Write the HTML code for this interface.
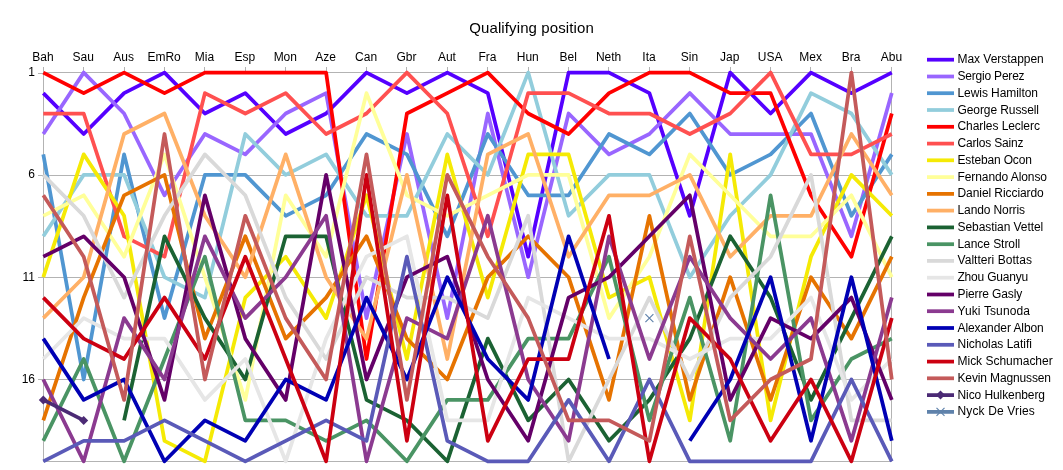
<!DOCTYPE html>
<html><head><meta charset="utf-8"><title>Qualifying position</title>
<style>
html,body{margin:0;padding:0;background:#fff}
svg{display:block}
text{font-family:"Liberation Sans",Arial,sans-serif;fill:#000}
.l{fill:none;stroke-width:3.75;stroke-linejoin:round;stroke-linecap:butt}
.g{stroke:#b3b3b3;stroke-width:1;fill:none;shape-rendering:crispEdges}
</style></head><body>
<svg width="1063" height="470" viewBox="0 0 1063 470">
<rect width="1063" height="470" fill="#fff"/>
<text x="531.5" y="33" font-size="15" text-anchor="middle" textLength="124.6" lengthAdjust="spacing">Qualifying position</text>
<path class="g" d="M43.3 175.5H891.8"/>
<path class="g" d="M43.3 277.5H891.8"/>
<path class="g" d="M43.3 379.5H891.8"/>
<path class="g" d="M43.3 72.6H891.8V461.3H43.3Z"/>
<path class="g" d="M43.5 66.6V72.6M83.5 66.6V72.6M124.5 66.6V72.6M164.5 66.6V72.6M204.5 66.6V72.6M245.5 66.6V72.6M285.5 66.6V72.6M326.5 66.6V72.6M366.5 66.6V72.6M406.5 66.6V72.6M447.5 66.6V72.6M487.5 66.6V72.6M528.5 66.6V72.6M568.5 66.6V72.6M608.5 66.6V72.6M649.5 66.6V72.6M689.5 66.6V72.6M730.5 66.6V72.6M770.5 66.6V72.6M810.5 66.6V72.6M851.5 66.6V72.6M891.5 66.6V72.6M38.3 73.5H43.3M38.3 175.5H43.3M38.3 277.5H43.3M38.3 379.5H43.3"/>
<text x="42.9" y="61.2" font-size="12" text-anchor="middle">Bah</text>
<text x="83.3" y="61.2" font-size="12" text-anchor="middle">Sau</text>
<text x="123.7" y="61.2" font-size="12" text-anchor="middle">Aus</text>
<text x="164.1" y="61.2" font-size="12" text-anchor="middle">EmRo</text>
<text x="204.5" y="61.2" font-size="12" text-anchor="middle">Mia</text>
<text x="244.9" y="61.2" font-size="12" text-anchor="middle">Esp</text>
<text x="285.3" y="61.2" font-size="12" text-anchor="middle">Mon</text>
<text x="325.7" y="61.2" font-size="12" text-anchor="middle">Aze</text>
<text x="366.1" y="61.2" font-size="12" text-anchor="middle">Can</text>
<text x="406.5" y="61.2" font-size="12" text-anchor="middle">Gbr</text>
<text x="446.9" y="61.2" font-size="12" text-anchor="middle">Aut</text>
<text x="487.4" y="61.2" font-size="12" text-anchor="middle">Fra</text>
<text x="527.8" y="61.2" font-size="12" text-anchor="middle">Hun</text>
<text x="568.2" y="61.2" font-size="12" text-anchor="middle">Bel</text>
<text x="608.6" y="61.2" font-size="12" text-anchor="middle">Neth</text>
<text x="649.0" y="61.2" font-size="12" text-anchor="middle">Ita</text>
<text x="689.4" y="61.2" font-size="12" text-anchor="middle">Sin</text>
<text x="729.8" y="61.2" font-size="12" text-anchor="middle">Jap</text>
<text x="770.2" y="61.2" font-size="12" text-anchor="middle">USA</text>
<text x="810.6" y="61.2" font-size="12" text-anchor="middle">Mex</text>
<text x="851.0" y="61.2" font-size="12" text-anchor="middle">Bra</text>
<text x="891.4" y="61.2" font-size="12" text-anchor="middle">Abu</text>
<text x="35" y="75.9" font-size="12" text-anchor="end">1</text>
<text x="35" y="178.2" font-size="12" text-anchor="end">6</text>
<text x="35" y="280.5" font-size="12" text-anchor="end">11</text>
<text x="35" y="382.8" font-size="12" text-anchor="end">16</text>
<path class="l" stroke="#5500ff" d="M43.3 93.1L83.7 134.0L124.1 93.1L164.5 72.6L204.9 113.5L245.3 93.1L285.7 134.0L326.1 113.5L366.5 72.6L406.9 93.1L447.3 72.6L487.8 93.1L528.2 256.7L568.6 72.6L609.0 72.6L649.4 93.1L689.8 215.8L730.2 72.6L770.6 113.5L811.0 72.6L851.4 93.1L891.8 72.6"/>
<path class="l" stroke="#9966ff" d="M43.3 134.0L83.7 72.6L124.1 113.5L164.5 195.3L204.9 134.0L245.3 154.4L285.7 113.5L326.1 93.1L366.5 318.1L406.9 134.0L447.3 318.1L487.8 113.5L528.2 277.2L568.6 113.5L609.0 154.4L649.4 134.0L689.8 93.1L730.2 134.0L770.6 134.0L811.0 134.0L851.4 236.3L891.8 93.1"/>
<path class="l" stroke="#5096d1" d="M43.3 154.4L83.7 379.5L124.1 154.4L164.5 318.1L204.9 174.9L245.3 174.9L285.7 215.8L326.1 195.3L366.5 134.0L406.9 154.4L447.3 236.3L487.8 134.0L528.2 195.3L568.6 195.3L609.0 134.0L649.4 154.4L689.8 113.5L730.2 174.9L770.6 154.4L811.0 113.5L851.4 215.8L891.8 154.4"/>
<path class="l" stroke="#92cddc" d="M43.3 236.3L83.7 174.9L124.1 174.9L164.5 277.2L204.9 297.6L245.3 134.0L285.7 174.9L326.1 154.4L366.5 215.8L406.9 215.8L447.3 134.0L487.8 174.9L528.2 72.6L568.6 215.8L609.0 174.9L649.4 174.9L689.8 277.2L730.2 215.8L770.6 174.9L811.0 93.1L851.4 113.5L891.8 174.9"/>
<path class="l" stroke="#ff0000" d="M43.3 72.6L83.7 93.1L124.1 72.6L164.5 93.1L204.9 72.6L245.3 72.6L285.7 72.6L326.1 72.6L366.5 359.0L406.9 113.5L447.3 93.1L487.8 72.6L528.2 113.5L568.6 134.0L609.0 93.1L649.4 72.6L689.8 72.6L730.2 93.1L770.6 93.1L811.0 195.3L851.4 256.7L891.8 113.5"/>
<path class="l" stroke="#ff5050" d="M43.3 113.5L83.7 113.5L124.1 236.3L164.5 256.7L204.9 93.1L245.3 113.5L285.7 93.1L326.1 134.0L366.5 113.5L406.9 72.6L447.3 113.5L487.8 236.3L528.2 93.1L568.6 93.1L609.0 113.5L649.4 113.5L689.8 134.0L730.2 113.5L770.6 72.6L811.0 154.4L851.4 154.4L891.8 134.0"/>
<path class="l" stroke="#f5ea05" d="M43.3 277.2L83.7 154.4L124.1 215.8L164.5 440.8L204.9 461.3L245.3 297.6L285.7 256.7L326.1 318.1L366.5 195.3L406.9 359.0L447.3 154.4L487.8 297.6L528.2 154.4L568.6 154.4L609.0 297.6L649.4 277.2L689.8 420.4L730.2 154.4L770.6 420.4L811.0 256.7L851.4 174.9L891.8 215.8"/>
<path class="l" stroke="#ffff99" d="M43.3 215.8L83.7 195.3L124.1 256.7L164.5 154.4L204.9 277.2L245.3 399.9L285.7 195.3L326.1 256.7L366.5 93.1L406.9 195.3L447.3 215.8L487.8 195.3L528.2 174.9L568.6 174.9L609.0 318.1L649.4 256.7L689.8 154.4L730.2 195.3L770.6 236.3L811.0 236.3L851.4 195.3L891.8 277.2"/>
<path class="l" stroke="#e67300" d="M43.3 420.4L83.7 297.6L124.1 195.3L164.5 174.9L204.9 338.6L245.3 236.3L285.7 338.6L326.1 297.6L366.5 236.3L406.9 338.6L447.3 379.5L487.8 277.2L528.2 236.3L568.6 277.2L609.0 399.9L649.4 215.8L689.8 399.9L730.2 277.2L770.6 399.9L811.0 277.2L851.4 338.6L891.8 256.7"/>
<path class="l" stroke="#ffb066" d="M43.3 318.1L83.7 277.2L124.1 134.0L164.5 113.5L204.9 215.8L245.3 277.2L285.7 154.4L326.1 277.2L366.5 338.6L406.9 174.9L447.3 359.0L487.8 154.4L528.2 134.0L568.6 256.7L609.0 195.3L649.4 195.3L689.8 174.9L730.2 256.7L770.6 215.8L811.0 215.8L851.4 134.0L891.8 195.3"/>
<path class="l" stroke="#1b6233" d="M124.1 420.4L164.5 236.3L204.9 318.1L245.3 379.5L285.7 236.3L326.1 236.3L366.5 399.9L406.9 420.4L447.3 461.3L487.8 338.6L528.2 420.4L568.6 379.5L609.0 440.8L649.4 399.9L689.8 338.6L730.2 236.3L770.6 297.6L811.0 399.9L851.4 318.1L891.8 236.3"/>
<path class="l" stroke="#4a9464" d="M43.3 440.8L83.7 359.0L124.1 461.3L164.5 359.0L204.9 256.7L245.3 420.4L285.7 420.4L326.1 440.8L366.5 420.4L406.9 461.3L447.3 399.9L487.8 399.9L528.2 338.6L568.6 338.6L609.0 256.7L649.4 420.4L689.8 297.6L730.2 440.8L770.6 195.3L811.0 420.4L851.4 359.0L891.8 338.6"/>
<path class="l" stroke="#d9d9d9" d="M43.3 174.9L83.7 215.8L124.1 297.6L164.5 215.8L204.9 154.4L245.3 195.3L285.7 297.6L326.1 359.0L366.5 277.2L406.9 297.6L447.3 297.6L487.8 318.1L528.2 215.8L568.6 461.3L609.0 379.5L649.4 297.6L689.8 379.5L730.2 297.6L770.6 256.7L811.0 174.9L851.4 420.4L891.8 420.4"/>
<path class="l" stroke="#e6e6e6" d="M43.3 359.0L83.7 318.1L124.1 338.6L164.5 338.6L204.9 399.9L245.3 359.0L285.7 461.3L326.1 338.6L366.5 256.7L406.9 236.3L447.3 420.4L487.8 420.4L528.2 297.6L568.6 318.1L609.0 338.6L649.4 338.6L689.8 359.0L730.2 338.6L770.6 338.6L811.0 297.6L851.4 399.9L891.8 359.0"/>
<path class="l" stroke="#640068" d="M43.3 256.7L83.7 236.3L124.1 277.2L164.5 399.9L204.9 195.3L245.3 338.6L285.7 399.9L326.1 174.9L366.5 379.5L406.9 277.2L447.3 256.7L487.8 379.5L528.2 440.8L568.6 297.6L609.0 277.2L649.4 236.3L689.8 195.3L730.2 399.9L770.6 318.1L811.0 338.6L851.4 297.6L891.8 399.9"/>
<path class="l" stroke="#8b3a90" d="M43.3 379.5L83.7 461.3L124.1 318.1L164.5 379.5L204.9 236.3L245.3 318.1L285.7 277.2L326.1 215.8L366.5 461.3L406.9 318.1L447.3 338.6L487.8 215.8L528.2 379.5L568.6 440.8L609.0 236.3L649.4 359.0L689.8 256.7L730.2 318.1L770.6 359.0L811.0 318.1L851.4 440.8L891.8 297.6"/>
<path class="l" stroke="#0000b4" d="M43.3 338.6L83.7 399.9L124.1 379.5L164.5 461.3L204.9 420.4L245.3 440.8L285.7 379.5L326.1 399.9L366.5 297.6L406.9 379.5L447.3 277.2L487.8 359.0L528.2 399.9L568.6 236.3L609.0 359.0M689.8 440.8L730.2 379.5L770.6 277.2L811.0 440.8L851.4 277.2L891.8 440.8"/>
<path class="l" stroke="#5a5ab8" d="M43.3 461.3L83.7 440.8L124.1 440.8L164.5 420.4L204.9 440.8L245.3 461.3L285.7 440.8L326.1 420.4L366.5 440.8L406.9 256.7L447.3 440.8L487.8 461.3L528.2 461.3L568.6 399.9L609.0 461.3L649.4 379.5L689.8 461.3L730.2 461.3L770.6 461.3L811.0 461.3L851.4 379.5L891.8 461.3"/>
<path class="l" stroke="#cc0011" d="M43.3 297.6L83.7 338.6L124.1 359.0L164.5 297.6L204.9 359.0L245.3 256.7L285.7 359.0L326.1 461.3L366.5 174.9L406.9 440.8L447.3 195.3L487.8 440.8L528.2 359.0L568.6 359.0L609.0 215.8L649.4 461.3L689.8 318.1L730.2 359.0L770.6 440.8L811.0 379.5L851.4 461.3L891.8 318.1"/>
<path class="l" stroke="#c45a5a" d="M43.3 195.3L83.7 256.7L124.1 399.9L164.5 134.0L204.9 379.5L245.3 215.8L285.7 318.1L326.1 379.5L366.5 154.4L406.9 399.9L447.3 174.9L487.8 256.7L528.2 318.1L568.6 420.4L609.0 420.4L649.4 440.8L689.8 236.3L730.2 420.4L770.6 379.5L811.0 359.0L851.4 72.6L891.8 379.5"/>
<path class="l" stroke="#4b2a75" d="M43.3 399.9L83.7 420.4"/>
<path fill="#4b2a75" d="M38.8 399.9L43.3 395.4L47.8 399.9L43.3 404.4Z"/>
<path fill="#4b2a75" d="M79.2 420.4L83.7 415.9L88.2 420.4L83.7 424.9Z"/>
<path stroke="#5f82ab" stroke-width="1.15" fill="none" d="M645.4 314.1L653.4 322.1M645.4 322.1L653.4 314.1"/>
<path class="l" stroke="#5500ff" d="M927 59.7H954"/>
<text x="957.5" y="63.2" font-size="12" textLength="86.3" lengthAdjust="spacing">Max Verstappen</text>
<path class="l" stroke="#9966ff" d="M927 76.5H954"/>
<text x="957.5" y="80.0" font-size="12" textLength="67.1" lengthAdjust="spacing">Sergio Perez</text>
<path class="l" stroke="#5096d1" d="M927 93.2H954"/>
<text x="957.5" y="96.7" font-size="12" textLength="80.5" lengthAdjust="spacing">Lewis Hamilton</text>
<path class="l" stroke="#92cddc" d="M927 110.0H954"/>
<text x="957.5" y="113.5" font-size="12" textLength="81.5" lengthAdjust="spacing">George Russell</text>
<path class="l" stroke="#ff0000" d="M927 126.8H954"/>
<text x="957.5" y="130.3" font-size="12" textLength="82.4" lengthAdjust="spacing">Charles Leclerc</text>
<path class="l" stroke="#ff5050" d="M927 143.6H954"/>
<text x="957.5" y="147.1" font-size="12" textLength="66.1" lengthAdjust="spacing">Carlos Sainz</text>
<path class="l" stroke="#f5ea05" d="M927 160.3H954"/>
<text x="957.5" y="163.8" font-size="12" textLength="74.4" lengthAdjust="spacing">Esteban Ocon</text>
<path class="l" stroke="#ffff99" d="M927 177.1H954"/>
<text x="957.5" y="180.6" font-size="12" textLength="89.5" lengthAdjust="spacing">Fernando Alonso</text>
<path class="l" stroke="#e67300" d="M927 193.9H954"/>
<text x="957.5" y="197.4" font-size="12" textLength="86.3" lengthAdjust="spacing">Daniel Ricciardo</text>
<path class="l" stroke="#ffb066" d="M927 210.6H954"/>
<text x="957.5" y="214.1" font-size="12" textLength="67.5" lengthAdjust="spacing">Lando Norris</text>
<path class="l" stroke="#1b6233" d="M927 227.4H954"/>
<text x="957.5" y="230.9" font-size="12" textLength="85.7" lengthAdjust="spacing">Sebastian Vettel</text>
<path class="l" stroke="#4a9464" d="M927 244.2H954"/>
<text x="957.5" y="247.7" font-size="12" textLength="62.7" lengthAdjust="spacing">Lance Stroll</text>
<path class="l" stroke="#d9d9d9" d="M927 260.9H954"/>
<text x="957.5" y="264.4" font-size="12" textLength="74.4" lengthAdjust="spacing">Valtteri Bottas</text>
<path class="l" stroke="#e6e6e6" d="M927 277.7H954"/>
<text x="957.5" y="281.2" font-size="12" textLength="70.6" lengthAdjust="spacing">Zhou Guanyu</text>
<path class="l" stroke="#640068" d="M927 294.5H954"/>
<text x="957.5" y="298.0" font-size="12" textLength="64.8" lengthAdjust="spacing">Pierre Gasly</text>
<path class="l" stroke="#8b3a90" d="M927 311.2H954"/>
<text x="957.5" y="314.8" font-size="12" textLength="72.5" lengthAdjust="spacing">Yuki Tsunoda</text>
<path class="l" stroke="#0000b4" d="M927 328.0H954"/>
<text x="957.5" y="331.5" font-size="12" textLength="86.3" lengthAdjust="spacing">Alexander Albon</text>
<path class="l" stroke="#5a5ab8" d="M927 344.8H954"/>
<text x="957.5" y="348.3" font-size="12" textLength="74.4" lengthAdjust="spacing">Nicholas Latifi</text>
<path class="l" stroke="#cc0011" d="M927 361.6H954"/>
<text x="957.5" y="365.1" font-size="12" textLength="95.2" lengthAdjust="spacing">Mick Schumacher</text>
<path class="l" stroke="#c45a5a" d="M927 378.3H954"/>
<text x="957.5" y="381.8" font-size="12" textLength="93.5" lengthAdjust="spacing">Kevin Magnussen</text>
<path class="l" stroke="#4b2a75" d="M927 395.1H954"/>
<path fill="#4b2a75" d="M936.0 395.1L940.5 390.6L945.0 395.1L940.5 399.6Z"/>
<text x="957.5" y="398.6" font-size="12" textLength="87.5" lengthAdjust="spacing">Nico Hulkenberg</text>
<path class="l" stroke="#5f82ab" d="M927 411.9H954"/>
<path stroke="#5f82ab" stroke-width="1.15" fill="none" d="M936.5 407.9L944.5 415.9M936.5 415.9L944.5 407.9"/>
<text x="957.5" y="415.4" font-size="12" textLength="77.3" lengthAdjust="spacing">Nyck De Vries</text>
</svg>
</body></html>
